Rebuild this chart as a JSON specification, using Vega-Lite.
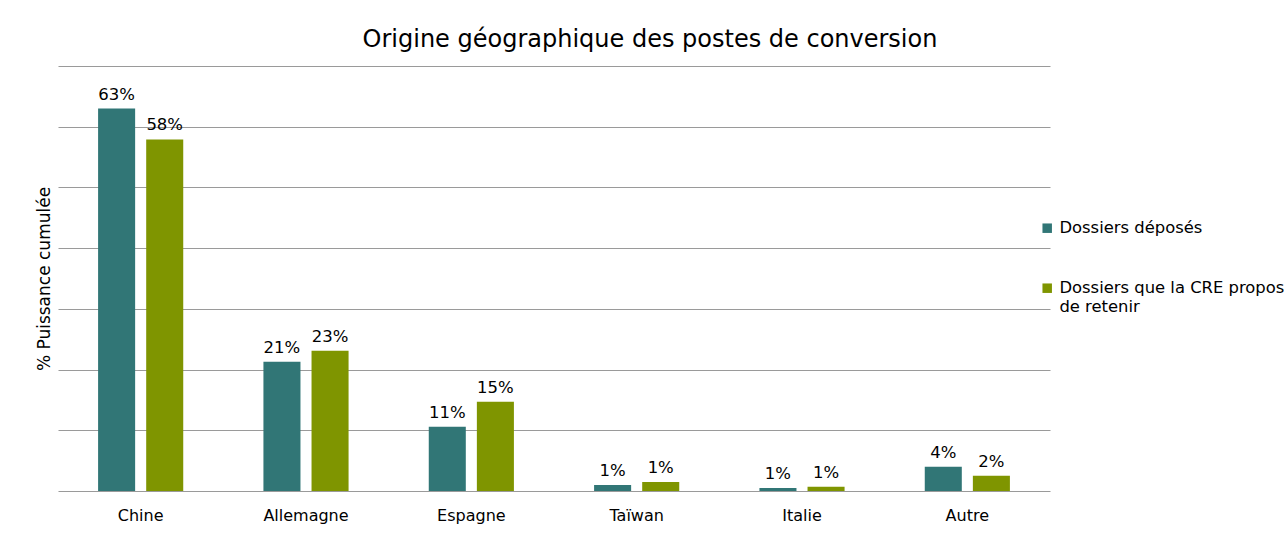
{
  "$schema": "https://vega.github.io/schema/vega-lite/v6.json",
  "width": 992,
  "height": 425,
  "autosize": "none",
  "padding": {"left": 58, "top": 66, "right": 234, "bottom": 64},
  "background": "white",
  "title": {
    "text": "Origine géographique des postes de conversion",
    "font": "DejaVu Sans",
    "fontSize": 24,
    "fontWeight": "normal",
    "color": "#000000",
    "anchor": "middle",
    "dx": 96,
    "offset": 14
  },
  "config": {
    "view": {"stroke": null},
    "font": "DejaVu Sans"
  },
  "data": {
    "values": [
      {"pays": "Chine", "serie": "Dossiers déposés", "valeur": 0.63, "label": "63%"},
      {"pays": "Chine", "serie": "Dossiers que la CRE propose de retenir", "valeur": 0.579, "label": "58%"},
      {"pays": "Allemagne", "serie": "Dossiers déposés", "valeur": 0.213, "label": "21%"},
      {"pays": "Allemagne", "serie": "Dossiers que la CRE propose de retenir", "valeur": 0.231, "label": "23%"},
      {"pays": "Espagne", "serie": "Dossiers déposés", "valeur": 0.106, "label": "11%"},
      {"pays": "Espagne", "serie": "Dossiers que la CRE propose de retenir", "valeur": 0.147, "label": "15%"},
      {"pays": "Taïwan", "serie": "Dossiers déposés", "valeur": 0.010, "label": "1%"},
      {"pays": "Taïwan", "serie": "Dossiers que la CRE propose de retenir", "valeur": 0.015, "label": "1%"},
      {"pays": "Italie", "serie": "Dossiers déposés", "valeur": 0.005, "label": "1%"},
      {"pays": "Italie", "serie": "Dossiers que la CRE propose de retenir", "valeur": 0.007, "label": "1%"},
      {"pays": "Autre", "serie": "Dossiers déposés", "valeur": 0.040, "label": "4%"},
      {"pays": "Autre", "serie": "Dossiers que la CRE propose de retenir", "valeur": 0.025, "label": "2%"}
    ]
  },
  "encoding": {
    "x": {
      "field": "pays",
      "type": "nominal",
      "sort": null,
      "scale": {"paddingInner": 0.485, "paddingOuter": 0.2425},
      "axis": {
        "title": null,
        "labelAngle": 0,
        "labelFont": "DejaVu Sans",
        "labelFontSize": 16,
        "labelColor": "#000000",
        "labelPadding": 16,
        "ticks": false,
        "domain": false
      }
    },
    "xOffset": {
      "field": "serie",
      "type": "nominal",
      "scale": {"paddingInner": 0.23, "paddingOuter": 0}
    },
    "y": {
      "field": "valeur",
      "type": "quantitative",
      "scale": {"domain": [0, 0.7], "nice": false},
      "axis": {
        "title": "% Puissance cumulée",
        "titleFont": "DejaVu Sans",
        "titleFontSize": 17,
        "titleFontWeight": "normal",
        "titleColor": "#000000",
        "titlePadding": 5,
        "labels": false,
        "ticks": false,
        "domain": false,
        "values": [0, 0.1, 0.2, 0.3, 0.4, 0.5, 0.6, 0.7],
        "gridColor": "#9a9a9a",
        "gridWidth": 1.2,
        "gridOpacity": 1
      }
    }
  },
  "layer": [
    {
      "mark": {"type": "bar"},
      "encoding": {
        "color": {
          "field": "serie",
          "type": "nominal",
          "scale": {"range": ["#317676", "#7f9500"]},
          "legend": {
            "title": null,
            "orient": "none",
            "legendX": 981,
            "legendY": 154,
            "padding": 0,
            "symbolType": "square",
            "symbolSize": 90,
            "symbolStrokeWidth": 0,
            "symbolOpacity": 1,
            "labelFont": "DejaVu Sans",
            "labelFontSize": 16.4,
            "labelColor": "#000000",
            "labelLimit": 400,
            "labelOffset": 4,
            "rowPadding": 43,
            "labelExpr": "datum.label == 'Dossiers que la CRE propose de retenir' ? ['Dossiers que la CRE propose', 'de retenir'] : datum.label"
          }
        }
      }
    },
    {
      "mark": {"type": "text", "baseline": "bottom", "dy": -6, "fontSize": 16.5, "font": "DejaVu Sans", "color": "#000000"},
      "encoding": {
        "text": {"field": "label"}
      }
    }
  ]
}
